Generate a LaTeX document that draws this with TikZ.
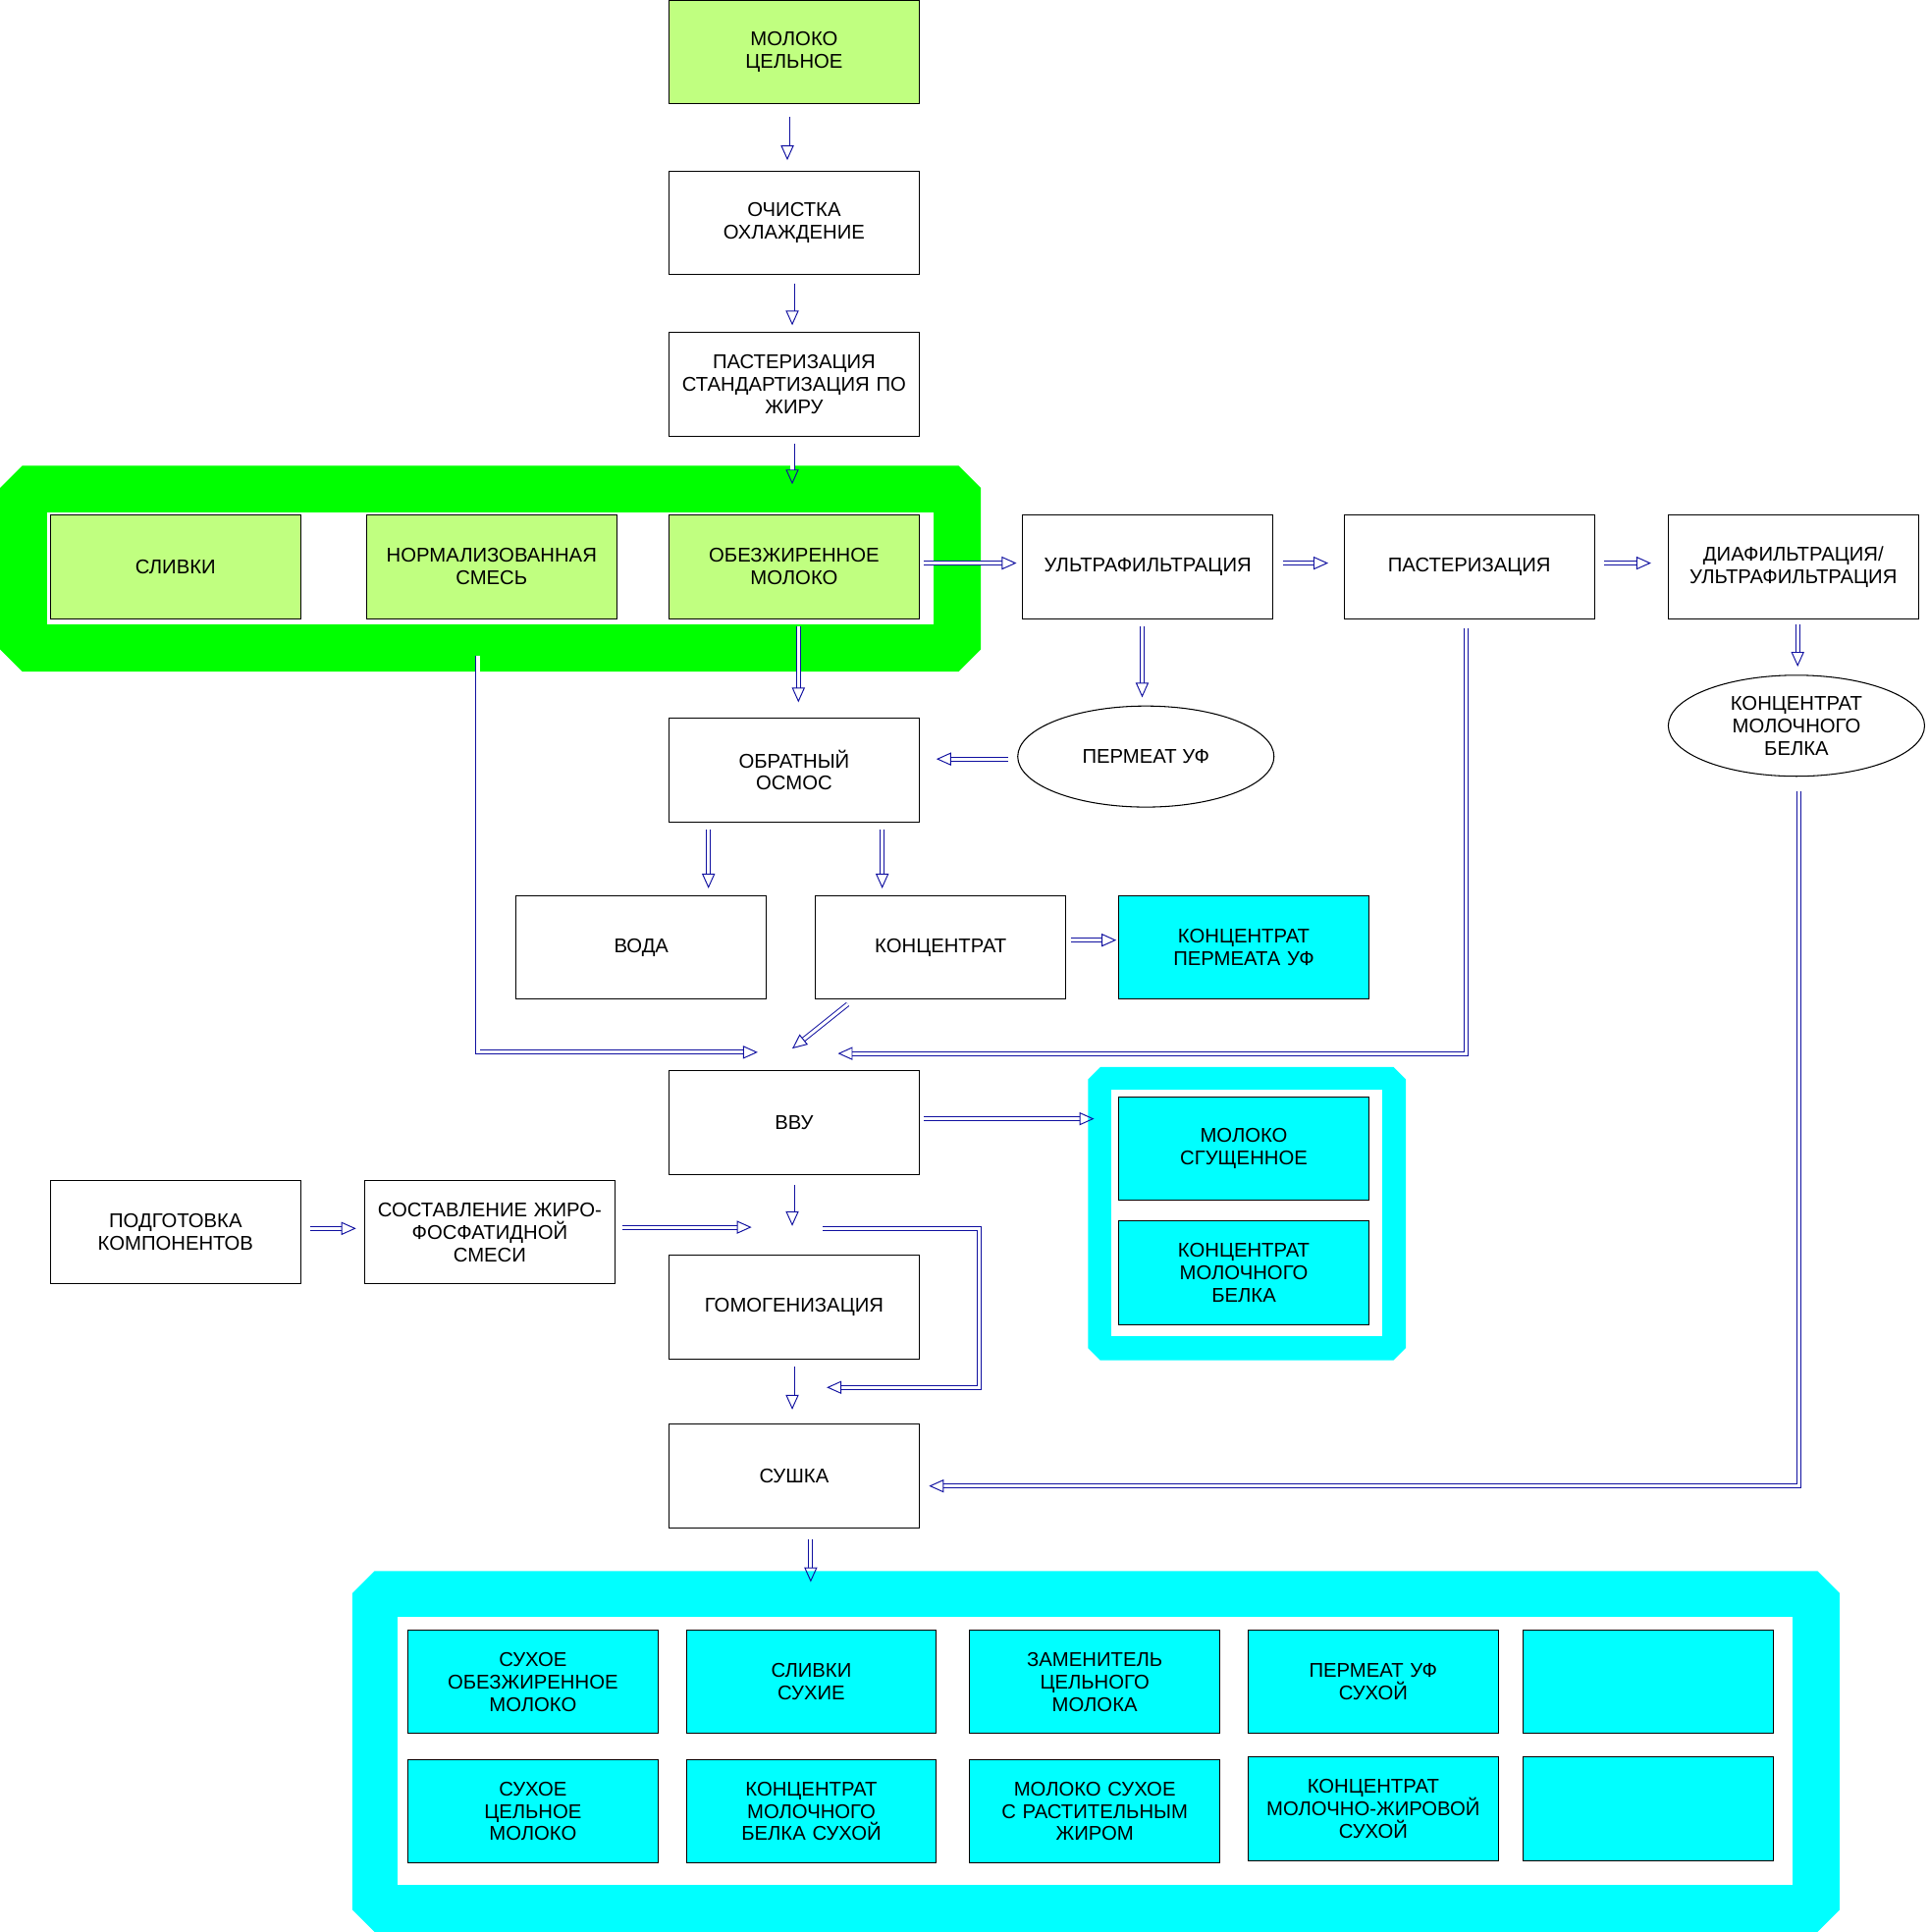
\documentclass[tikz,border=0pt]{standalone}
\usepackage{fontspec}
\setmainfont{Liberation Sans}
\usetikzlibrary{arrows.meta,shapes.geometric}
\definecolor{lg}{HTML}{C0FF80}
\definecolor{cy}{HTML}{00FFFF}
\definecolor{gr}{HTML}{00FF00}
\definecolor{ab}{HTML}{1010A0}
\tikzset{
 box/.style={draw,line width=1.2pt,minimum width=101.5mm,minimum height=42mm,text width=96mm,align=center,font=\fontsize{23}{26}\selectfont,inner sep=0pt},
 ell/.style={draw,line width=1.2pt,ellipse,minimum width=104mm,minimum height=41mm,align=center,font=\fontsize{23}{26}\selectfont,inner sep=0pt},
 ar/.style={draw=ab,double=white,double distance=3.5pt,line width=1.1pt,-{Triangle[open,length=17pt,width=15pt]}},
}
\begin{document}
\begin{tikzpicture}[x=0.5mm,y=-0.5mm]
\useasboundingbox (0,0) rectangle (1565,1568);
% frames
\fill[gr] (18,378)--(778,378)--(796,396)--(796,527)--(778,545)--(18,545)--(0,527)--(0,396)--cycle;
\fill[white] (38,416) rectangle (758,507);
\fill[cy] (893,866)--(1131,866)--(1141,876)--(1141,1094)--(1131,1104)--(893,1104)--(883,1094)--(883,876)--cycle;
\fill[white] (902,884) rectangle (1122,1084);
\fill[cy] (304,1275)--(1475,1275)--(1493,1293)--(1493,1550)--(1475,1568)--(304,1568)--(286,1550)--(286,1293)--cycle;
\fill[white] (323,1312) rectangle (1455,1530);
% boxes
\node[box,fill=lg] (milk) at (644.5,42) {МОЛОКО\\ЦЕЛЬНОЕ};
\node[box] (och) at (644.5,181) {ОЧИСТКА\\ОХЛАЖДЕНИЕ};
\node[box] (past) at (644.5,312) {ПАСТЕРИЗАЦИЯ\\СТАНДАРТИЗАЦИЯ ПО\\ЖИРУ};
\node[box,fill=lg] (sliv) at (142.5,460) {СЛИВКИ};
\node[box,fill=lg] (norm) at (399,460) {НОРМАЛИЗОВАННАЯ\\СМЕСЬ};
\node[box,fill=lg] (obez) at (644.5,460) {ОБЕЗЖИРЕННОЕ\\МОЛОКО};
\node[box] (uf) at (931.5,460) {УЛЬТРАФИЛЬТРАЦИЯ};
\node[box] (past2) at (1192.5,460) {ПАСТЕРИЗАЦИЯ};
\node[box] (diaf) at (1455.5,460) {ДИАФИЛЬТРАЦИЯ/\\УЛЬТРАФИЛЬТРАЦИЯ};
\node[ell] (kmb) at (1458,589) {КОНЦЕНТРАТ\\МОЛОЧНОГО\\БЕЛКА};
\node[ell] (perm) at (930,614) {ПЕРМЕАТ УФ};
\node[box] (osm) at (644.5,625) {ОБРАТНЫЙ\\ОСМОС};
\node[box] (voda) at (520.5,769) {ВОДА};
\node[box] (konc) at (763.5,769) {КОНЦЕНТРАТ};
\node[box,fill=cy] (kpuf) at (1009.5,769) {КОНЦЕНТРАТ\\ПЕРМЕАТА УФ};
\node[box] (vvu) at (644.5,911) {ВВУ};
\node[box,fill=cy] (msg) at (1009.5,932) {МОЛОКО\\СГУЩЕННОЕ};
\node[box,fill=cy] (kmb2) at (1009.5,1033) {КОНЦЕНТРАТ\\МОЛОЧНОГО\\БЕЛКА};
\node[box] (podg) at (142.5,1000) {ПОДГОТОВКА\\КОМПОНЕНТОВ};
\node[box] (sost) at (397.5,1000) {СОСТАВЛЕНИЕ ЖИРО-\\ФОСФАТИДНОЙ\\СМЕСИ};
\node[box] (gomo) at (644.5,1061) {ГОМОГЕНИЗАЦИЯ};
\node[box] (sush) at (644.5,1198) {СУШКА};
\node[box,fill=cy] (p1) at (432.5,1365) {СУХОЕ\\ОБЕЗЖИРЕННОЕ\\МОЛОКО};
\node[box,fill=cy] (p2) at (658.5,1365) {СЛИВКИ\\СУХИЕ};
\node[box,fill=cy] (p3) at (888.5,1365) {ЗАМЕНИТЕЛЬ\\ЦЕЛЬНОГО\\МОЛОКА};
\node[box,fill=cy] (p4) at (1114.5,1365) {ПЕРМЕАТ УФ\\СУХОЙ};
\node[box,fill=cy] (p5) at (1337.5,1365) {};
\node[box,fill=cy] (q1) at (432.5,1470) {СУХОЕ\\ЦЕЛЬНОЕ\\МОЛОКО};
\node[box,fill=cy] (q2) at (658.5,1470) {КОНЦЕНТРАТ\\МОЛОЧНОГО\\БЕЛКА СУХОЙ};
\node[box,fill=cy] (q3) at (888.5,1470) {МОЛОКО СУХОЕ\\С РАСТИТЕЛЬНЫМ\\ЖИРОМ};
\node[box,fill=cy] (q4) at (1114.5,1468) {КОНЦЕНТРАТ\\МОЛОЧНО-ЖИРОВОЙ\\СУХОЙ};
\node[box,fill=cy] (q5) at (1337.5,1468) {};
% merge points
\coordinate (m1) at (643,854);
\coordinate (m2) at (643,996);
\coordinate (m3) at (643,1126);
% arrows
\draw[ar] (639,95)--(639,130);
\draw[ar] (643,230)--(643,264);
\draw[ar] (643,360)--(643,393);
\draw[ar] (750,457)--(825,457);
\draw[ar] (1041,457)--(1078,457);
\draw[ar] (1302,457)--(1340,457);
\draw[ar] (648,508)--(648,570);
\draw[ar] (927,508)--(927,566);
\draw[ar] (1459,507)--(1459,541);
\draw[ar] (818,616)--(760,616);
\draw[ar] (575,673)--(575,721);
\draw[ar] (716,673)--(716,721);
\draw[ar] (869,763)--(906,763);
\draw[ar] (688,815)--(643,851);
\draw[ar] (388,532)--(388,854)--(615,854);
\draw[ar] (1190,510)--(1190,855)--(680,855);
\draw[ar] (750,908)--(888,908);
\draw[ar] (643,962)--(643,995);
\draw[ar] (252,997)--(289,997);
\draw[ar] (505,996)--(610,996);
\draw[ar] (668,997)--(795,997)--(795,1126)--(671,1126);
\draw[ar] (643,1109)--(643,1144);
\draw[ar] (1460,642)--(1460,1206)--(754,1206);
\draw[ar] (658,1249)--(658,1284);
\end{tikzpicture}
\end{document}
